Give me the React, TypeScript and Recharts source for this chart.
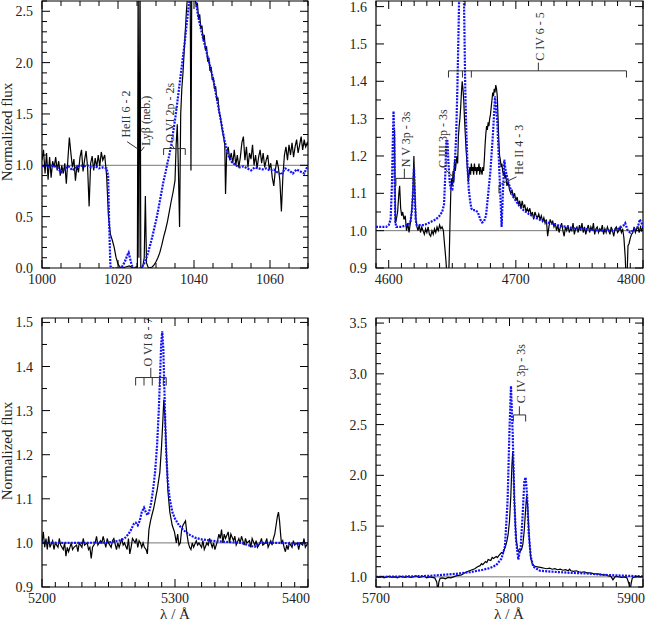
import { LineChart, Line, XAxis, YAxis, ReferenceLine, ReferenceArea, ReferenceDot } from "recharts";

type Pt = [number, number];
type Seg = [number, number, number, number];
type Note = { x: number; y: number; text: string };

const serif = '"Liberation Serif", "DejaVu Serif", "Noto Serif", serif';

// ---- O VI 1032/1038 region ----
const p1Obs: Pt[] = [
  [1000, 1.05], [1000.4, 1.15], [1000.8, 0.92], [1001.2, 1.12], [1001.6, 0.86], [1002, 1.08],
  [1002.4, 0.88], [1002.8, 1.04], [1003.2, 0.98], [1003.6, 1.08], [1004, 0.95], [1004.4, 1.04],
  [1004.8, 0.9], [1005.2, 1.0], [1005.6, 0.92], [1006, 1.02], [1006.4, 0.82], [1006.8, 1.05],
  [1007.2, 1.27], [1007.6, 1.12], [1008, 0.98], [1008.4, 1.06], [1008.8, 0.85], [1009.2, 1.0],
  [1009.6, 0.93], [1010, 1.08], [1010.4, 1.15], [1010.8, 0.94], [1011.2, 1.05], [1011.6, 1.14],
  [1012, 0.98], [1012.4, 0.6], [1012.8, 1.02], [1013.2, 1.09], [1013.6, 0.95], [1014, 1.07],
  [1014.4, 0.98], [1014.8, 1.1], [1015.2, 0.99], [1015.6, 1.13], [1016, 1.05], [1016.5, 1.1],
  [1017, 0.9], [1017.5, 0.5], [1018, 0.33], [1018.5, 0.27], [1019, 0.2], [1019.5, 0.1],
  [1020, 0.04], [1020.5, 0.01], [1021, 0], [1022, 0.01], [1023, 0.02], [1024, 0], [1024.8, 0.01],
  [1025.1, 0], [1025.3, 2.9], [1025.5, 0.1], [1025.8, 2.9], [1026, 0], [1026.5, 0.01],
  [1026.9, 0.1], [1027.2, 0.7], [1027.5, 0.05], [1028, 0], [1029, 0.01], [1029.5, 0.03],
  [1030, 0.06], [1030.5, 0.1], [1031, 0.15], [1031.5, 0.22], [1032, 0.3], [1032.5, 0.37],
  [1033, 0.45], [1033.5, 0.55], [1034, 0.65], [1034.5, 0.74], [1035, 0.85], [1035.3, 1.2],
  [1035.6, 1.4], [1035.9, 0.95], [1036.2, 0.4], [1036.5, 1.5], [1036.8, 1.75], [1037.1, 1.9],
  [1037.4, 2.1], [1037.7, 2.3], [1038, 2.5], [1038.3, 2.65], [1038.7, 2.8], [1039, 2.7],
  [1039.2, 0.95], [1039.4, 2.7], [1039.7, 2.8], [1040, 2.75], [1040.3, 2.62], [1040.6, 2.55],
  [1040.9, 2.58], [1041.2, 2.42], [1041.5, 2.47], [1041.8, 2.33], [1042.1, 2.36], [1042.4, 2.22],
  [1042.7, 2.27], [1043, 2.12], [1043.3, 2.16], [1043.6, 2.01], [1043.9, 2.05], [1044.2, 1.92],
  [1044.5, 1.96], [1044.8, 1.83], [1045.1, 1.86], [1045.4, 1.74], [1045.7, 1.77], [1046, 1.63],
  [1046.3, 1.66], [1046.6, 1.52], [1046.9, 1.48], [1047.2, 1.4], [1047.5, 1.33], [1047.8, 1.27],
  [1048.1, 1.2], [1048.3, 0.72], [1048.6, 1.12], [1049, 1.18], [1049.4, 1.05], [1049.8, 1.12],
  [1050.2, 1.02], [1050.6, 1.15], [1051, 1.0], [1051.4, 1.1], [1051.8, 0.98], [1052.2, 1.08],
  [1052.6, 1.22], [1053, 1.28], [1053.4, 1.05], [1053.8, 1.18], [1054.2, 0.98], [1054.6, 1.12],
  [1055, 1.06], [1055.4, 1.2], [1055.8, 1.0], [1056.2, 1.1], [1056.6, 0.97], [1057, 1.08],
  [1057.4, 1.15], [1057.8, 1.02], [1058.2, 1.12], [1058.6, 0.98], [1059, 1.05], [1059.4, 1.1],
  [1059.8, 0.96], [1060.2, 1.02], [1060.6, 0.88], [1061, 0.8], [1061.4, 0.95], [1061.8, 1.05],
  [1062.2, 0.98], [1062.6, 0.85], [1063, 0.55], [1063.4, 0.9], [1063.8, 1.1], [1064.2, 1.18],
  [1064.6, 1.05], [1065, 1.2], [1065.4, 1.1], [1065.8, 1.22], [1066.2, 1.08], [1066.6, 1.18],
  [1067, 1.25], [1067.4, 1.12], [1067.8, 1.2], [1068.2, 1.28], [1068.6, 1.15], [1069, 1.25],
  [1069.4, 1.18], [1069.8, 1.22], [1070, 1.2],
];
const p1Mod: Pt[] = [
  [1000, 0.99], [1001, 1.0], [1002, 0.99], [1003, 1.0], [1004, 0.98], [1005, 0.93], [1006, 0.97],
  [1007, 0.99], [1008, 0.95], [1009, 0.98], [1010, 1.0], [1011, 0.99], [1012, 1.0], [1013, 0.98],
  [1014, 0.99], [1015, 0.97], [1016, 0.98], [1017, 0.97], [1017.4, 0.9], [1017.7, 0.4],
  [1018, 0.02], [1018.5, 0], [1019, 0], [1020, 0], [1021, 0.01], [1021.5, 0.04], [1022, 0.08],
  [1022.5, 0.13], [1022.8, 0.15], [1023.2, 0.09], [1023.6, 0.03], [1024, 0], [1025, 0], [1026, 0],
  [1026.5, 0.02], [1027, 0.05], [1027.5, 0.1], [1028, 0.16], [1028.5, 0.23], [1029, 0.3],
  [1029.5, 0.38], [1030, 0.46], [1030.5, 0.55], [1031, 0.65], [1031.5, 0.75], [1032, 0.85],
  [1032.5, 0.93], [1033, 1.02], [1033.5, 1.1], [1034, 1.2], [1034.5, 1.32], [1035, 1.44],
  [1035.5, 1.58], [1036, 1.73], [1036.5, 1.88], [1037, 2.03], [1037.5, 2.18], [1038, 2.35],
  [1038.5, 2.52], [1039, 2.7], [1039.5, 2.8], [1040, 2.75], [1040.5, 2.6], [1041, 2.47],
  [1041.5, 2.38], [1042, 2.3], [1042.5, 2.22], [1043, 2.15], [1043.5, 2.07], [1044, 2.0],
  [1044.5, 1.92], [1045, 1.85], [1045.5, 1.75], [1046, 1.65], [1046.5, 1.55], [1047, 1.45],
  [1047.5, 1.35], [1048, 1.25], [1048.5, 1.17], [1049, 1.1], [1049.5, 1.06], [1050, 1.03],
  [1051, 1.0], [1052, 0.98], [1053, 0.99], [1054, 0.97], [1055, 0.95], [1056, 0.98], [1057, 0.97],
  [1058, 0.96], [1059, 0.97], [1060, 0.95], [1061, 0.96], [1062, 0.93], [1063, 0.91], [1064, 0.97],
  [1065, 0.95], [1066, 0.92], [1067, 0.96], [1068, 0.94], [1069, 0.92], [1070, 1.0],
];
const p1Segs: Seg[] = [
  [1022.4, 1.23, 1025.2, 1.16],
  [1026.9, 1.18, 1026.1, 1.14],
  [1032, 1.163, 1037.7, 1.163], [1032, 1.163, 1032, 1.1], [1037.7, 1.163, 1037.7, 1.1],
  [1034.8, 1.163, 1034.0, 1.21],
];
const p1Notes: Note[] = [
  { x: 1022.1, y: 1.27, text: "HeII 6 - 2" },
  { x: 1027.3, y: 1.19, text: "Lyβ (neb.)" },
  { x: 1033.7, y: 1.22, text: "O VI 2p - 2s" },
];

// ---- 4590-4800 region ----
const p2Obs: Pt[] = [
  [4604.6, 1.27], [4605.2, 1.02], [4606, 1.03], [4607, 1.05], [4608, 1.1], [4608.6, 1.12],
  [4609.4, 1.06], [4610.2, 1.04], [4611, 1.05], [4612, 1.03], [4613, 1.04], [4614, 1.0],
  [4615, 1.02], [4616, 0.995], [4617, 1.02], [4618, 1.05], [4619, 1.1], [4619.8, 1.2],
  [4620.6, 1.1], [4621.4, 1.03], [4622.2, 1.01], [4623, 1.0], [4624, 1.015], [4625, 0.995],
  [4626, 1.01], [4627, 1.0], [4628, 0.99], [4629, 1.005], [4630, 0.995], [4631, 1.01],
  [4632, 0.99], [4633, 0.985], [4634, 1.0], [4635, 0.99], [4636, 1.005], [4637, 0.995],
  [4638, 1.01], [4639, 1.0], [4640, 1.015], [4641, 1.005], [4642, 1.01], [4643, 1.0],
  [4644, 0.96], [4645, 0.92], [4646, 0.87], [4647, 0.86], [4647.6, 0.93], [4648.2, 1.02],
  [4648.8, 1.1], [4649.4, 1.14], [4650, 1.12], [4650.6, 1.16], [4651.2, 1.13], [4651.8, 1.19],
  [4652.4, 1.16], [4653, 1.18], [4653.6, 1.2], [4654.2, 1.18], [4654.8, 1.25], [4655.4, 1.28],
  [4656, 1.3], [4656.6, 1.33], [4657.2, 1.37], [4657.8, 1.4], [4658.4, 1.38], [4659, 1.35],
  [4659.6, 1.3], [4660.2, 1.26], [4660.8, 1.22], [4661.4, 1.19], [4662, 1.16], [4662.6, 1.13],
  [4663.2, 1.15], [4663.8, 1.17], [4664.4, 1.15], [4665, 1.18], [4665.6, 1.16], [4666.2, 1.17],
  [4666.8, 1.15], [4667.4, 1.18], [4668, 1.16], [4668.6, 1.17], [4669.2, 1.15], [4669.8, 1.17],
  [4670.4, 1.16], [4671, 1.18], [4671.6, 1.15], [4672.2, 1.17], [4672.8, 1.16], [4673.4, 1.15],
  [4674, 1.17], [4674.6, 1.16], [4675.2, 1.19], [4675.8, 1.23], [4676.4, 1.26], [4677, 1.28],
  [4677.6, 1.27], [4678.2, 1.29], [4678.8, 1.28], [4679.4, 1.3], [4680, 1.31], [4680.6, 1.33],
  [4681.2, 1.35], [4681.8, 1.37], [4682.4, 1.36], [4683, 1.38], [4683.6, 1.37], [4684.2, 1.39],
  [4684.8, 1.38], [4685.4, 1.36], [4686, 1.3], [4686.6, 1.24], [4687.2, 1.2], [4687.8, 1.19],
  [4688.4, 1.17], [4689, 1.18], [4689.6, 1.16], [4690.2, 1.15], [4690.8, 1.16], [4691.4, 1.14],
  [4692, 1.15], [4693, 1.12], [4694, 1.13], [4695, 1.11], [4696, 1.1], [4697, 1.11], [4698, 1.09],
  [4699, 1.1], [4700, 1.08], [4701, 1.09], [4702, 1.07], [4703, 1.08], [4704, 1.06], [4705, 1.08],
  [4706, 1.06], [4707, 1.07], [4708, 1.05], [4709, 1.06], [4710, 1.05], [4711, 1.06], [4712, 1.04],
  [4713, 1.05], [4714, 1.03], [4715, 1.05], [4716, 1.04], [4717, 1.035], [4718, 1.045], [4719, 1.03],
  [4720, 1.04], [4721, 1.025], [4722, 1.035], [4723, 1.02], [4724, 1.03], [4725, 0.985], [4726, 1.01],
  [4727, 1.03], [4728, 1.02], [4729, 1.025], [4730, 1.01], [4731, 1.02], [4732, 1.0], [4733, 1.015],
  [4734, 0.995], [4735, 1.01], [4736, 1.02], [4737, 1.0], [4738, 0.985], [4739, 1.01], [4740, 1.0],
  [4741, 1.015], [4742, 0.995], [4743, 1.005], [4744, 1.0], [4745, 1.02], [4746, 0.99], [4747, 1.005],
  [4748, 1.01], [4749, 0.995], [4750, 1.015], [4751, 1.0], [4752, 1.02], [4753, 0.995], [4754, 1.01],
  [4755, 0.99], [4756, 1.005], [4757, 1.015], [4758, 0.995], [4759, 1.01], [4760, 1.0], [4761, 1.02],
  [4762, 0.99], [4763, 1.005], [4764, 1.01], [4765, 0.995], [4766, 1.005], [4767, 1.0], [4768, 1.015],
  [4769, 0.99], [4770, 1.005], [4771, 0.995], [4772, 1.01], [4773, 1.0], [4774, 0.99], [4775, 1.01],
  [4776, 1.0], [4777, 0.985], [4778, 1.005], [4779, 1.01], [4780, 0.995], [4781, 1.0], [4782, 1.01],
  [4783, 0.995], [4784, 1.005], [4785, 0.98], [4786, 0.93], [4786.8, 0.86], [4787.5, 0.88],
  [4788.2, 0.96], [4789, 0.965], [4790, 0.98], [4791, 0.99], [4792, 0.995], [4793, 1.01],
  [4794, 0.995], [4795, 1.005], [4796, 1.01], [4797, 0.995], [4798, 1.01], [4799, 1.0], [4800, 1.01],
];
const p2Mod: Pt[] = [
  [4590, 1.01], [4594, 1.01], [4598, 1.01], [4600, 1.015], [4601.5, 1.03], [4602.5, 1.12],
  [4603.3, 1.25], [4603.8, 1.32], [4604.3, 1.25], [4604.8, 1.1], [4605.3, 1.02], [4606, 1.01],
  [4610, 1.01], [4614, 1.015], [4617, 1.02], [4618.5, 1.06], [4619.3, 1.12], [4619.9, 1.17],
  [4620.5, 1.1], [4621.2, 1.03], [4622, 1.015], [4625, 1.015], [4628, 1.015], [4631, 1.02],
  [4634, 1.025], [4637, 1.03], [4640, 1.04], [4642, 1.05], [4643.5, 1.07], [4644.5, 1.15],
  [4645.3, 1.24], [4646.2, 1.24], [4647, 1.18], [4648, 1.13], [4649, 1.11], [4650, 1.11],
  [4651, 1.14], [4652, 1.18], [4653, 1.25], [4654, 1.38], [4655, 1.55], [4655.8, 1.7],
  [4657.5, 1.66], [4658.8, 1.7], [4659.5, 1.55], [4660.2, 1.38], [4661, 1.27], [4662, 1.17],
  [4663, 1.11], [4664, 1.08], [4665, 1.06], [4666, 1.055], [4668, 1.055], [4670, 1.05],
  [4672, 1.03], [4673.5, 1.022], [4675, 1.025], [4676.5, 1.04], [4678, 1.09], [4680, 1.16],
  [4682, 1.26], [4683.6, 1.36], [4685.4, 1.29], [4687.5, 1.12], [4688.8, 1.01], [4689.8, 1.1],
  [4690.9, 1.19], [4692, 1.16], [4694, 1.13], [4696, 1.11], [4698, 1.09], [4700, 1.08],
  [4703, 1.065], [4706, 1.055], [4710, 1.045], [4715, 1.035], [4720, 1.028], [4725, 1.022],
  [4730, 1.017], [4735, 1.013], [4740, 1.01], [4745, 1.007], [4750, 1.005], [4755, 1.004],
  [4760, 1.002], [4765, 1.0], [4770, 1.0], [4775, 1.0], [4780, 1.004], [4783, 1.01], [4785, 1.015],
  [4786, 1.02], [4787, 1.01], [4788, 1.0], [4790, 0.995], [4792, 1.0], [4794, 1.005], [4796, 1.01],
  [4797.5, 1.03], [4799, 1.02], [4800, 1.01],
];
const p2Segs: Seg[] = [
  [4605.7, 1.14, 4620.2, 1.14], [4605.7, 1.14, 4605.7, 1.12], [4620.2, 1.14, 4620.2, 1.12],
  [4612.3, 1.14, 4612.3, 1.166],
  [4650.8, 1.144, 4645, 1.162],
  [4647, 1.428, 4787, 1.428], [4647, 1.428, 4647, 1.41], [4658, 1.428, 4658, 1.41],
  [4665, 1.428, 4665, 1.41], [4787, 1.428, 4787, 1.41], [4717.7, 1.428, 4717.7, 1.45],
  [4686.7, 1.122, 4700.5, 1.144], [4686.7, 1.122, 4686.7, 1.1],
];
const p2Notes: Note[] = [
  { x: 4613.8, y: 1.17, text: "N V 3p - 3s" },
  { x: 4642.6, y: 1.168, text: "C III 3p - 3s" },
  { x: 4719.2, y: 1.455, text: "C IV 6 - 5" },
  { x: 4702.6, y: 1.15, text: "He II 4 - 3" },
];

// ---- O VI 5290 region ----
const p3Obs: Pt[] = [
  [5200, 1.0], [5201, 1.025], [5202, 0.99], [5203, 1.01], [5204, 0.985], [5205, 1.015], [5206, 0.99],
  [5208, 1.005], [5209, 0.985], [5210, 1.0], [5212, 0.99], [5213, 1.01], [5214, 0.995], [5216, 0.985],
  [5217, 1.0], [5218, 0.97], [5219, 0.99], [5220, 0.98], [5222, 1.0], [5223, 0.985], [5224, 0.99],
  [5226, 0.995], [5227, 0.98], [5228, 1.0], [5230, 0.99], [5231, 1.01], [5232, 0.995], [5234, 1.0],
  [5235, 0.985], [5236, 0.99], [5237, 0.965], [5238, 0.99], [5240, 1.0], [5241, 1.015], [5242, 0.995],
  [5244, 1.005], [5245, 1.0], [5246, 1.015], [5248, 0.99], [5249, 1.01], [5250, 1.0], [5252, 0.99],
  [5253, 1.005], [5254, 1.01], [5256, 0.985], [5257, 1.0], [5258, 0.99], [5260, 1.01], [5261, 0.995],
  [5262, 1.0], [5264, 0.985], [5265, 1.01], [5266, 0.975], [5267, 0.99], [5268, 1.01], [5270, 1.0],
  [5271, 1.01], [5272, 0.99], [5273, 1.005], [5274, 1.0], [5275, 0.99], [5276, 1.0], [5277, 0.99],
  [5278.3, 0.985], [5279.2, 0.975], [5280.4, 1.03], [5281.6, 1.05], [5282.8, 1.065], [5284.1, 1.08],
  [5285.3, 1.1], [5286.6, 1.12], [5287.6, 1.14], [5288.6, 1.16], [5289.9, 1.22], [5290.9, 1.28],
  [5291.6, 1.325], [5292.6, 1.28], [5293.6, 1.2], [5294.6, 1.12], [5296.1, 1.07], [5297.9, 1.04],
  [5299.6, 1.025], [5301, 1.0], [5302, 1.02], [5303, 0.995], [5304, 1.0], [5305, 1.03], [5306, 1.04],
  [5307.9, 1.05], [5309, 1.02], [5310, 1.0], [5311, 0.99], [5312, 0.985], [5313, 1.0], [5314, 0.99],
  [5316, 1.005], [5317, 0.995], [5318, 1.0], [5320, 0.99], [5321, 1.005], [5322, 0.985], [5324, 1.0],
  [5325, 0.995], [5326, 1.01], [5328, 0.99], [5329, 1.0], [5330, 0.985], [5332, 1.005], [5333, 1.02],
  [5334, 1.01], [5335, 1.03], [5336, 1.0], [5337, 1.02], [5338, 1.01], [5340, 1.025], [5341, 1.0],
  [5342, 1.02], [5344, 1.005], [5345, 1.015], [5346, 0.995], [5348, 1.01], [5349, 1.0], [5350, 1.015],
  [5352, 0.995], [5353, 1.01], [5354, 1.0], [5356, 1.005], [5357, 0.99], [5358, 1.01], [5360, 0.995],
  [5361, 1.005], [5362, 0.99], [5364, 1.0], [5365, 1.01], [5366, 0.995], [5368, 1.0], [5369, 1.01],
  [5370, 0.99], [5372, 1.005], [5373, 0.995], [5374, 1.01], [5375, 1.02], [5376, 1.04], [5377, 1.06],
  [5377.8, 1.07], [5378.6, 1.05], [5379.4, 1.02], [5380, 1.0], [5381, 1.005], [5382, 0.99],
  [5383, 0.98], [5384, 0.995], [5385, 0.985], [5386, 1.0], [5388, 0.99], [5389, 1.005], [5390, 0.995],
  [5392, 1.0], [5393, 0.985], [5394, 1.0], [5396, 0.995], [5397, 1.01], [5398, 0.99], [5400, 1.0],
];
const p3Mod: Pt[] = [
  [5200, 1.0], [5230, 1.0], [5250, 1.001], [5258, 1.005], [5262, 1.01], [5265, 1.02], [5267, 1.03],
  [5269, 1.043], [5270.5, 1.046], [5272, 1.04], [5273.5, 1.05], [5275, 1.07], [5276.7, 1.08],
  [5278, 1.07], [5279.2, 1.063], [5280.5, 1.07], [5282, 1.09], [5283.5, 1.12], [5285, 1.16],
  [5286.5, 1.22], [5287.8, 1.3], [5288.8, 1.38], [5289.6, 1.45], [5290.4, 1.48], [5291.2, 1.44],
  [5292, 1.35], [5292.8, 1.26], [5293.6, 1.19], [5294.6, 1.14], [5296, 1.1], [5298, 1.07],
  [5300, 1.055], [5303, 1.04], [5306, 1.03], [5310, 1.02], [5315, 1.012], [5320, 1.008],
  [5330, 1.004], [5340, 1.002], [5350, 1.0], [5355, 0.995], [5360, 0.991], [5363, 1.0],
  [5370, 1.0], [5380, 1.0], [5390, 0.998], [5400, 1.0],
];
const p3Segs: Seg[] = [
  [5270.4, 1.375, 5293.4, 1.375], [5270.4, 1.375, 5270.4, 1.357], [5276.7, 1.375, 5276.7, 1.357],
  [5282.9, 1.375, 5282.9, 1.357], [5288.4, 1.375, 5288.4, 1.357], [5291.2, 1.375, 5291.2, 1.357],
  [5293.4, 1.375, 5293.4, 1.357], [5281.8, 1.375, 5281.8, 1.397],
];
const p3Notes: Note[] = [{ x: 5279.8, y: 1.4, text: "O VI 8 - 7" }];

// ---- C IV 5801/5812 region ----
const p4Obs: Pt[] = [
  [5700, 1.0], [5702, 0.995], [5704, 1.005], [5706, 0.99], [5708, 1.0], [5710, 1.005], [5712, 0.995],
  [5714, 1.0], [5716, 0.99], [5718, 1.005], [5720, 1.0], [5722, 0.995], [5724, 1.005], [5726, 0.995],
  [5728, 1.0], [5730, 1.01], [5732, 0.995], [5734, 1.0], [5736, 1.005], [5738, 0.99], [5740, 1.0],
  [5742, 0.995], [5744, 0.99], [5745.5, 0.95], [5746.3, 0.86], [5747.1, 0.95], [5748, 0.985],
  [5750, 0.99], [5752, 0.98], [5754, 0.995], [5756, 0.99], [5758, 1.0], [5760, 1.01], [5762, 1.015],
  [5764, 1.02], [5766, 1.035], [5768, 1.05], [5770, 1.06], [5772, 1.07], [5774, 1.08], [5776, 1.1],
  [5778, 1.11], [5779, 1.13], [5780, 1.12], [5782, 1.15], [5783, 1.14], [5784, 1.17], [5786, 1.16],
  [5787, 1.19], [5788, 1.18], [5790, 1.2], [5791, 1.19], [5792, 1.21], [5794, 1.24], [5795, 1.23],
  [5796, 1.27], [5797, 1.3], [5798, 1.35], [5799, 1.42], [5800, 1.55], [5801, 1.8], [5801.8, 2.1],
  [5802.4, 2.23], [5803, 2.05], [5803.7, 1.75], [5804.4, 1.5], [5805.2, 1.35], [5806, 1.28],
  [5807, 1.25], [5808, 1.25], [5809, 1.27], [5810, 1.32], [5811, 1.45], [5812, 1.65], [5812.8, 1.8],
  [5813.6, 1.7], [5814.4, 1.48], [5815.2, 1.3], [5816, 1.18], [5817, 1.13], [5818, 1.11],
  [5820, 1.1], [5822, 1.095], [5824, 1.09], [5826, 1.085], [5828, 1.08], [5830, 1.085], [5832, 1.075],
  [5834, 1.08], [5836, 1.07], [5838, 1.075], [5840, 1.065], [5842, 1.07], [5844, 1.06], [5845, 1.075],
  [5846, 1.06], [5848, 1.055], [5850, 1.06], [5852, 1.05], [5854, 1.045], [5856, 1.05], [5858, 1.04],
  [5860, 1.04], [5862, 1.035], [5864, 1.03], [5866, 1.03], [5868, 1.025], [5870, 1.02], [5872, 1.02],
  [5874, 1.01], [5876, 1.005], [5877.5, 0.97], [5879, 1.0], [5880, 1.005], [5882, 1.0], [5884, 0.995],
  [5886, 1.0], [5888, 0.99], [5889.5, 0.93], [5890.3, 0.86], [5891.2, 0.94], [5892, 0.99],
  [5894, 1.0], [5896, 1.005], [5898, 1.0], [5900, 1.005],
];
const p4Mod: Pt[] = [
  [5700, 1.0], [5720, 1.003], [5740, 1.01], [5750, 1.02], [5760, 1.03], [5770, 1.045], [5780, 1.07],
  [5785, 1.085], [5790, 1.115], [5794, 1.18], [5796.6, 1.3], [5798.6, 1.76], [5799.9, 2.41],
  [5801.1, 2.88], [5802.4, 2.41], [5803.6, 1.76], [5804.9, 1.36], [5806.6, 1.17], [5808.4, 1.3],
  [5809.9, 1.62], [5811.1, 1.94], [5812.1, 1.98], [5813.1, 1.82], [5814.4, 1.43], [5815.9, 1.2],
  [5817.9, 1.1], [5822.8, 1.06], [5832.8, 1.05], [5845, 1.04], [5857.8, 1.033], [5870, 1.02],
  [5882.8, 1.013], [5900, 1.005],
];
const p4Segs: Seg[] = [
  [5802.9, 2.595, 5812.1, 2.595], [5802.9, 2.595, 5802.9, 2.53], [5812.1, 2.595, 5812.1, 2.53],
  [5807.4, 2.595, 5807.4, 2.68],
];
const p4Notes: Note[] = [{ x: 5808.4, y: 2.71, text: "C IV 3p - 3s" }];

// tick labels
const p1XLabels = [1000, 1020, 1040, 1060];
const p1YLabels = [0, 0.5, 1, 1.5, 2, 2.5];
const p2XLabels = [4600, 4700, 4800];
const p2YLabels = [0.9, 1, 1.1, 1.2, 1.3, 1.4, 1.5, 1.6];
const p3XLabels = [5200, 5300, 5400];
const p3YLabels = [0.9, 1, 1.1, 1.2, 1.3, 1.4, 1.5];
const p4XLabels = [5700, 5800, 5900];
const p4YLabels = [1, 1.5, 2, 2.5, 3, 3.5];

function steps(from: number, to: number, step: number) {
  const out: number[] = [];
  const n = Math.round((to - from) / step);
  for (let i = 0; i <= n; i++) out.push(Math.round((from + i * step) * 1000) / 1000);
  return out;
}
const has = (arr: number[], v: number) => arr.some((a) => Math.abs(a - v) < 1e-6);
const toRows = (pts: Pt[]) => pts.map(([x, y]) => ({ x, y }));

type PanelProps = {
  left: number; top: number; width: number; height: number;
  mTop: number; mRight: number; yw: number; xh: number;
  xDomain: [number, number]; yDomain: [number, number];
  xStep: number; yStep: number; xLabels: number[]; yLabels: number[];
  obs: Pt[]; model: Pt[]; segs: Seg[]; notes: Note[];
};

function Panel(p: PanelProps) {
  const plotLeft = p.yw;
  const plotRight = p.width - p.mRight;
  const plotTop = p.mTop;
  const plotBottom = p.height - p.xh;
  const xTicks = steps(p.xDomain[0], p.xDomain[1], p.xStep);
  const yTicks = steps(p.yDomain[0], Math.floor(p.yDomain[1] / p.yStep + 1e-6) * p.yStep, p.yStep);

  const XTick = (t: any) => {
    const v = t.payload.value as number;
    const x = t.x as number;
    const major = has(p.xLabels, v);
    const len = major ? 8 : 5;
    const atEnd = Math.abs(v - p.xDomain[1]) < 1e-6;
    return (
      <g>
        <line x1={x} x2={x} y1={plotBottom} y2={plotBottom - len} stroke="#000" strokeWidth={1} />
        <line x1={x} x2={x} y1={plotTop} y2={plotTop + len} stroke="#000" strokeWidth={1} />
        {major && (
          <text x={atEnd ? x + 2 : x} y={plotBottom + 16} textAnchor={atEnd ? "end" : "middle"}
            fontFamily={serif} fontSize={14} fill="#222">{v}</text>
        )}
      </g>
    );
  };
  const YTick = (t: any) => {
    const v = t.payload.value as number;
    const y = t.y as number;
    const major = has(p.yLabels, v);
    const len = major ? 8 : 5;
    return (
      <g>
        <line x1={plotLeft} x2={plotLeft + len} y1={y} y2={y} stroke="#000" strokeWidth={1} />
        <line x1={plotRight} x2={plotRight - len} y1={y} y2={y} stroke="#000" strokeWidth={1} />
        {major && (
          <text x={plotLeft - 9} y={y + 5} textAnchor="end" fontFamily={serif} fontSize={14} fill="#222">
            {v.toFixed(1)}
          </text>
        )}
      </g>
    );
  };

  return (
    <div style={{ position: "absolute", left: p.left, top: p.top }}>
      <LineChart width={p.width} height={p.height} margin={{ top: p.mTop, right: p.mRight, left: 0, bottom: 0 }}>
        <XAxis dataKey="x" type="number" domain={p.xDomain} ticks={xTicks} interval={0} allowDataOverflow
          height={p.xh} axisLine={false} tickLine={false} tick={XTick} />
        <YAxis type="number" domain={p.yDomain} ticks={yTicks} interval={0} allowDataOverflow
          width={p.yw} axisLine={false} tickLine={false} tick={YTick} />
        <ReferenceLine y={1} stroke="#555" strokeWidth={0.8} />
        <Line data={toRows(p.obs)} dataKey="y" type="linear" stroke="#000" strokeWidth={1.2}
          dot={false} isAnimationActive={false} />
        <Line data={toRows(p.model)} dataKey="y" type="linear" stroke="#1010ff" strokeWidth={2.2}
          strokeDasharray="2 1.2" dot={false} isAnimationActive={false} />
        {p.segs.map((s, i) => (
          <ReferenceLine key={"s" + i} segment={[{ x: s[0], y: s[1] }, { x: s[2], y: s[3] }]}
            stroke="#333" strokeWidth={1} />
        ))}
        {p.notes.map((n, i) => (
          <ReferenceDot key={"n" + i} x={n.x} y={n.y} r={1}
            shape={(d: any) => (
              <text x={d.cx} y={d.cy} transform={`rotate(-90 ${d.cx} ${d.cy})`} textAnchor="start"
                dominantBaseline="central" fontFamily={serif} fontSize={12} fill="#333">{n.text}</text>
            )} />
        ))}
        <ReferenceArea x1={p.xDomain[0]} x2={p.xDomain[1]} y1={p.yDomain[0]} y2={p.yDomain[1]}
          fill="none" stroke="#000" strokeWidth={1.2} ifOverflow="visible" />
      </LineChart>
    </div>
  );
}

const titleStyle = {
  position: "absolute" as const,
  fontFamily: serif,
  fontSize: 15,
  color: "#222",
  whiteSpace: "nowrap" as const,
  lineHeight: 1,
};

export default function App() {
  return (
    <div style={{ position: "absolute", left: 0, top: 0, width: 645, height: 621, background: "#fff", overflow: "hidden" }}>
      <Panel left={0} top={0} width={320} height={300} mTop={1} mRight={12} yw={42} xh={32}
        xDomain={[1000, 1070]} yDomain={[0, 2.6]} xStep={5} yStep={0.1}
        xLabels={p1XLabels} yLabels={p1YLabels} obs={p1Obs} model={p1Mod} segs={p1Segs} notes={p1Notes} />
      <Panel left={320} top={0} width={325} height={300} mTop={1} mRight={2} yw={56} xh={32}
        xDomain={[4590, 4800]} yDomain={[0.9, 1.615]} xStep={10} yStep={0.05}
        xLabels={p2XLabels} yLabels={p2YLabels} obs={p2Obs} model={p2Mod} segs={p2Segs} notes={p2Notes} />
      <Panel left={0} top={300} width={320} height={321} mTop={18} mRight={12} yw={42} xh={34}
        xDomain={[5200, 5400]} yDomain={[0.9, 1.51]} xStep={10} yStep={0.05}
        xLabels={p3XLabels} yLabels={p3YLabels} obs={p3Obs} model={p3Mod} segs={p3Segs} notes={p3Notes} />
      <Panel left={320} top={300} width={325} height={321} mTop={18} mRight={2} yw={56} xh={34}
        xDomain={[5700, 5900]} yDomain={[0.9, 3.55]} xStep={10} yStep={0.1}
        xLabels={p4XLabels} yLabels={p4YLabels} obs={p4Obs} model={p4Mod} segs={p4Segs} notes={p4Notes} />
      <div style={{ ...titleStyle, left: 7, top: 132, transform: "translate(-50%, -50%) rotate(-90deg)" }}>
        Normalized flux
      </div>
      <div style={{ ...titleStyle, left: 7, top: 451, transform: "translate(-50%, -50%) rotate(-90deg)" }}>
        Normalized flux
      </div>
      <div style={{ ...titleStyle, left: 175, top: 614, transform: "translate(-50%, -50%)" }}>λ / Å</div>
      <div style={{ ...titleStyle, left: 509, top: 614, transform: "translate(-50%, -50%)" }}>λ / Å</div>
    </div>
  );
}
